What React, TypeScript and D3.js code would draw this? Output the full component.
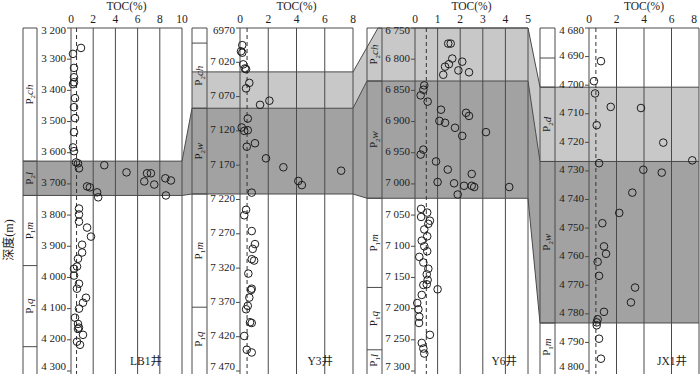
import { line, scaleLinear } from 'd3'

// samples: [TOC %, depth m]
const lb1Samples: [number, number][] = [
  [0.9, 3264], [0.18, 3283], [0.27, 3328], [0.27, 3358], [0.27, 3374], [0.18, 3380],
  [0.36, 3425], [0.27, 3454], [0.36, 3489], [0.27, 3534], [0.18, 3583], [0.27, 3595],
  [0.45, 3631], [0.63, 3634], [0.72, 3650], [3.0, 3640], [5.0, 3663], [6.85, 3666],
  [7.2, 3666], [6.6, 3692], [7.5, 3702], [8.5, 3682], [9.0, 3689], [1.45, 3708],
  [1.7, 3711], [2.35, 3727], [2.45, 3743], [8.55, 3737], [0.72, 3779], [0.72, 3798],
  [0.72, 3821], [1.45, 3840], [1.8, 3869], [1.0, 3895], [1.0, 3920], [0.63, 3940],
  [0.54, 3965], [0.27, 3972], [0.27, 3994], [0.72, 4020], [0.54, 4036], [1.35, 4065],
  [1.08, 4081], [0.72, 4100], [0.36, 4129], [0.63, 4149], [0.72, 4161], [0.63, 4165],
  [1.08, 4184], [0.54, 4206], [0.81, 4216],
]
const y3Samples: [number, number][] = [
  [0.16, 6995], [0.07, 7004], [0.16, 7006], [0.23, 7023], [0.35, 7029], [0.43, 7030],
  [0.66, 7050], [0.43, 7058], [2.08, 7076], [1.42, 7082], [0.55, 7102], [0.12, 7115],
  [0.3, 7120], [0.55, 7119], [1.06, 7138], [0.48, 7143], [1.84, 7160], [3.07, 7173],
  [7.16, 7178], [4.13, 7193], [4.38, 7199], [0.83, 7210], [0.43, 7235], [0.3, 7243],
  [0.83, 7266], [1.06, 7285], [0.9, 7292], [0.83, 7307], [1.0, 7309], [0.59, 7328],
  [0.83, 7350], [0.78, 7352], [0.66, 7363], [0.55, 7375], [0.43, 7380], [0.71, 7399],
  [0.83, 7400], [0.3, 7419], [0.48, 7439], [0.83, 7443],
]
const y6Samples: [number, number][] = [
  [1.47, 6775], [1.58, 6775], [1.65, 6799], [2.09, 6804], [1.5, 6808], [1.33, 6812],
  [1.92, 6818], [2.39, 6821], [1.25, 6825], [0.41, 6842], [0.37, 6849], [0.25, 6858],
  [0.56, 6868], [1.15, 6881], [2.26, 6886], [2.39, 6891], [1.08, 6899], [1.33, 6902],
  [1.77, 6910], [3.14, 6917], [2.09, 6923], [0.37, 6945], [0.25, 6953], [0.93, 6964],
  [1.45, 6977], [2.51, 6984], [1.0, 6997], [1.73, 6999], [2.17, 7003], [2.51, 7003],
  [2.62, 7005], [4.17, 7005], [1.89, 7017], [0.27, 7040], [0.54, 7046], [0.27, 7053],
  [0.66, 7059], [0.59, 7064], [0.41, 7073], [0.54, 7084], [0.3, 7091], [0.41, 7100],
  [0.54, 7108], [0.19, 7117], [0.37, 7126], [0.59, 7136], [0.52, 7145], [0.56, 7154],
  [0.37, 7162], [0.52, 7161], [1.0, 7169], [0.3, 7178], [0.1, 7191], [0.15, 7201],
  [0.19, 7213], [0.18, 7223], [0.66, 7242], [0.3, 7255], [0.37, 7264], [0.41, 7272],
]
const jx1Samples: [number, number][] = [
  [0.87, 4691.6], [0.36, 4698.6], [0.44, 4702.9], [1.58, 4707.6], [3.78, 4708], [0.56, 4714],
  [5.4, 4720.1], [0.73, 4727.3], [7.51, 4726.3], [3.95, 4729.6], [5.29, 4730.6], [3.15, 4737.6],
  [2.2, 4744.7], [0.97, 4748.3], [1.09, 4756.4], [1.24, 4759], [0.63, 4761.8], [0.73, 4766.7],
  [3.35, 4770.8], [3.05, 4776], [1.09, 4779.3], [0.63, 4781.9], [0.56, 4783], [0.56, 4784],
  [0.73, 4788.7], [0.87, 4795.7],
]

const lb1DepthTicks = [3200, 3300, 3400, 3500, 3600, 3700, 3800, 3900, 4000, 4100, 4200, 4300]
const lb1DepthLabels = ['3 200', '3 300', '3 400', '3 500', '3 600', '3 700', '3 800', '3 900', '4 000', '4 100', '4 200', '4 300']
const y3DepthTicks = [6970, 7020, 7070, 7120, 7170, 7220, 7270, 7320, 7370, 7420, 7470]
const y3DepthLabels = ['6970', '7 020', '7 070', '7 120', '7 170', '7 220', '7 270', '7 320', '7 370', '7 420', '7 470']
const y6DepthTicks = [6750, 6800, 6850, 6900, 6950, 7000, 7050, 7100, 7150, 7200, 7250, 7300]
const y6DepthLabels = ['6 750', '6 800', '6 850', '6 900', '6 950', '7 000', '7 050', '7 100', '7 150', '7 200', '7 250', '7 300']
const jx1DepthTicks = [4680, 4690, 4700, 4710, 4720, 4730, 4740, 4750, 4760, 4770, 4780, 4790, 4800]
const jx1DepthLabels = ['4 680', '4 690', '4 700', '4 710', '4 720', '4 730', '4 740', '4 750', '4 760', '4 770', '4 780', '4 790', '4 800']

const lb1TocTicks = [0, 2, 4, 6, 8, 10]
const y3TocTicks = [0, 2, 4, 6, 8]
const y6TocTicks = [0, 1, 2, 3, 4, 5]
const jx1TocTicks = [0, 2, 4, 6, 8]

// formation column: boundaries and names ([subscript, name])
const lb1Bounds = [3200, 3627, 3737, 3962, 4222, 4300]
const lb1Units = [['2', 'ch'], ['2', 'l'], ['1', 'm'], ['1', 'q'], null]
const y3Bounds = [6970, 6992, 7087, 7212, 7377, 7470]
const y3Units = [null, ['2', 'ch'], ['2', 'w'], ['1', 'm'], ['1', 'q']]
const y6Bounds = [6750, 6835, 7023, 7166, 7266, 7300]
const y6Units = [['2', 'ch'], ['2', 'w'], ['1', 'm'], ['1', 'q'], ['1', 'l']]
const jx1Bounds = [4680, 4690.5, 4700.7, 4726.7, 4783.2, 4800]
const jx1Units = [null, null, ['2', 'd'], ['2', 'w'], ['1', 'm']]

// shaded intervals
const y3Light = [7034, 7087]
const y6Light = [6750, 6835]
const jx1Light = [4700.7, 4726.7]
const lb1Dark = [3627, 3737]
const y3Dark = [7087, 7212]
const y6Dark = [6835, 7023]
const jx1Dark = [4726.7, 4783.2]

const wellNames = ['LB1井', 'Y3井', 'Y6井', 'JX1井']

const TOP = 28
const BOTTOM = 371
const EDGE = 374
const LIGHT = '#c8c8c8'
const DARK = '#a2a2a2'
const INK = '#1c1c1c'
const RULE = '#4a4a4a'

const panels = [
  { name: wellNames[0], samples: lb1Samples, ticks: lb1DepthTicks, labels: lb1DepthLabels, toc: lb1TocTicks, bounds: lb1Bounds, units: lb1Units, light: null, dark: lb1Dark, colL: 23, colR: 37, x0: 71, x1: 182, nameX: 162, cut: 0 },
  { name: wellNames[1], samples: y3Samples, ticks: y3DepthTicks, labels: y3DepthLabels, toc: y3TocTicks, bounds: y3Bounds, units: y3Units, light: y3Light, dark: y3Dark, colL: 192, colR: 207, x0: 240, x1: 353, nameX: 333, cut: 0 },
  { name: wellNames[2], samples: y6Samples, ticks: y6DepthTicks, labels: y6DepthLabels, toc: y6TocTicks, bounds: y6Bounds, units: y6Units, light: y6Light, dark: y6Dark, colL: 367, colR: 382, x0: 415, x1: 528, nameX: 517, cut: 11 },
  { name: wellNames[3], samples: jx1Samples, ticks: jx1DepthTicks, labels: jx1DepthLabels, toc: jx1TocTicks, bounds: jx1Bounds, units: jx1Units, light: jx1Light, dark: jx1Dark, colL: 540, colR: 555, x0: 589, x1: 699, nameX: 687, cut: 0 },
].map((p) => ({
  ...p,
  x: scaleLinear().domain([0, p.toc[p.toc.length - 1]]).range([p.x0, p.x1]),
  y: scaleLinear().domain([p.ticks[0], p.ticks[p.ticks.length - 1]]).range([TOP, BOTTOM]),
}))

type P = (typeof panels)[number]
const poly = line<[number, number]>()

function Unit({ cx, cy, u }: { cx: number; cy: number; u: string[] }) {
  return (
    <text transform={`translate(${cx},${cy}) rotate(-90)`} textAnchor="middle" dominantBaseline="middle" fontSize={11} fill={INK}>
      P<tspan fontSize={7} dy={3}>{u[0]}</tspan>
      <tspan fontStyle="italic" dy={-3}>{u[1]}</tspan>
    </text>
  )
}

function Links() {
  const out: JSX.Element[] = []
  for (let i = 0; i < panels.length - 1; i++) {
    const L: P = panels[i]
    const R: P = panels[i + 1]
    if (L.light && R.light) {
      const top: [number, number][] = [[L.x1, L.y(L.light[0])], [R.colL + R.cut, R.y(R.light[0])]]
      const pts: [number, number][] = [...top]
      if (R.cut) pts.push([R.colL + R.cut, R.y(R.light[1])])
      pts.push([R.colL, R.y(R.light[1])], [L.x1, L.y(L.light[1])])
      out.push(<path key={`l${i}`} d={poly(pts) + 'Z'} fill={LIGHT} />)
      out.push(<path key={`lt${i}`} d={poly(top) ?? ''} stroke={RULE} fill="none" />)
    }
    if (L.dark && R.dark) {
      const pts: [number, number][] = [
        [L.x1, L.y(L.dark[0])], [R.colL, R.y(R.dark[0])],
        [R.colL, R.y(R.dark[1])], [L.x1, L.y(L.dark[1])],
      ]
      out.push(<path key={`d${i}`} d={poly(pts) + 'Z'} fill={DARK} />)
      out.push(<path key={`dt${i}`} d={poly([pts[0], pts[1]]) ?? ''} stroke={RULE} fill="none" />)
      out.push(<path key={`db${i}`} d={poly([pts[3], pts[2]]) ?? ''} stroke={RULE} fill="none" />)
    }
  }
  return <g>{out}</g>
}

function Bands({ p }: { p: P }) {
  return (
    <g>
      {p.light && (
        <g>
          <rect x={p.colL + p.cut} y={p.y(p.light[0])} width={p.x1 - p.colL - p.cut} height={p.y(p.light[1]) - p.y(p.light[0])} fill={LIGHT} />
          <line x1={p.colL + p.cut} x2={p.x1} y1={p.y(p.light[0])} y2={p.y(p.light[0])} stroke={RULE} />
        </g>
      )}
      {p.dark && (
        <g>
          <rect x={p.colL} y={p.y(p.dark[0])} width={p.x1 - p.colL} height={p.y(p.dark[1]) - p.y(p.dark[0])} fill={DARK} />
          <line x1={p.colL} x2={p.x1} y1={p.y(p.dark[0])} y2={p.y(p.dark[0])} stroke={RULE} />
          <line x1={p.colL} x2={p.x1} y1={p.y(p.dark[1])} y2={p.y(p.dark[1])} stroke={RULE} />
        </g>
      )}
    </g>
  )
}

function Panel({ p }: { p: P }) {
  const half = (p.colL + p.colR) / 2
  return (
    <g>
      {/* formation column */}
      <line x1={p.colL} x2={p.colR} y1={TOP} y2={TOP} stroke={RULE} />
      <line x1={p.colL} x2={p.colL} y1={TOP} y2={EDGE} stroke={RULE} />
      <line x1={p.colR} x2={p.colR} y1={TOP} y2={EDGE} stroke={RULE} />
      {p.bounds.slice(1, -1).map((b) => (
        <line key={b} x1={p.colL} x2={p.colR} y1={p.y(b)} y2={p.y(b)} stroke={RULE} />
      ))}
      {p.units.map((u, i) =>
        u ? <Unit key={i} cx={half} cy={(p.y(p.bounds[i]) + p.y(p.bounds[i + 1])) / 2} u={u} /> : null,
      )}
      {/* TOC grid */}
      <line x1={p.x0} x2={p.x1} y1={TOP} y2={TOP} stroke={RULE} />
      {p.toc.map((t) => (
        <g key={t}>
          <line x1={p.x(t)} x2={p.x(t)} y1={TOP} y2={EDGE} stroke={RULE} />
          <text x={Math.min(p.x(t), 694)} y={20} textAnchor="middle" dominantBaseline="middle" fontSize={11.5} fill={INK}>{t}</text>
        </g>
      ))}
      <text x={(p.x0 + p.x1) / 2} y={7} textAnchor="middle" dominantBaseline="middle" fontSize={11.5} fill={INK}>TOC(%)</text>
      {/* depth axis */}
      {p.ticks.map((d, i) => (
        <g key={d}>
          <line x1={p.x0 - 4} x2={p.x0} y1={p.y(d)} y2={p.y(d)} stroke={RULE} />
          <text x={p.x0 - 5} y={Math.min(Math.max(p.y(d), 31), 367)} textAnchor="end" dominantBaseline="middle" fontSize={11} fill={INK}>{p.labels[i]}</text>
        </g>
      ))}
      <line x1={p.x(0.5)} x2={p.x(0.5)} y1={TOP} y2={EDGE} stroke="#333" strokeDasharray="4 3" />
      {p.samples.map(([t, d], i) => (
        <circle key={i} cx={p.x(t)} cy={p.y(d)} r={3.8} fill="none" stroke={INK} strokeWidth={1} />
      ))}
      <text x={p.nameX} y={362} textAnchor="end" dominantBaseline="middle" fontSize={11.5} fill={INK}>{p.name}</text>
    </g>
  )
}

export default function App() {
  return (
    <svg
      width={700}
      height={374}
      viewBox="0 0 700 374"
      style={{ position: 'absolute', left: 0, top: 0, background: '#fff' }}
      fontFamily="'Liberation Serif', 'Times New Roman', 'Noto Sans CJK SC', serif"
    >
      <rect width={700} height={374} fill="#fff" />
      <Links />
      {panels.map((p) => <Bands key={p.name} p={p} />)}
      {panels.map((p) => <Panel key={p.name} p={p} />)}
      <text transform="translate(10,240) rotate(-90)" textAnchor="middle" dominantBaseline="middle" fontSize={12} fill={INK}>深度(m)</text>
    </svg>
  )
}
